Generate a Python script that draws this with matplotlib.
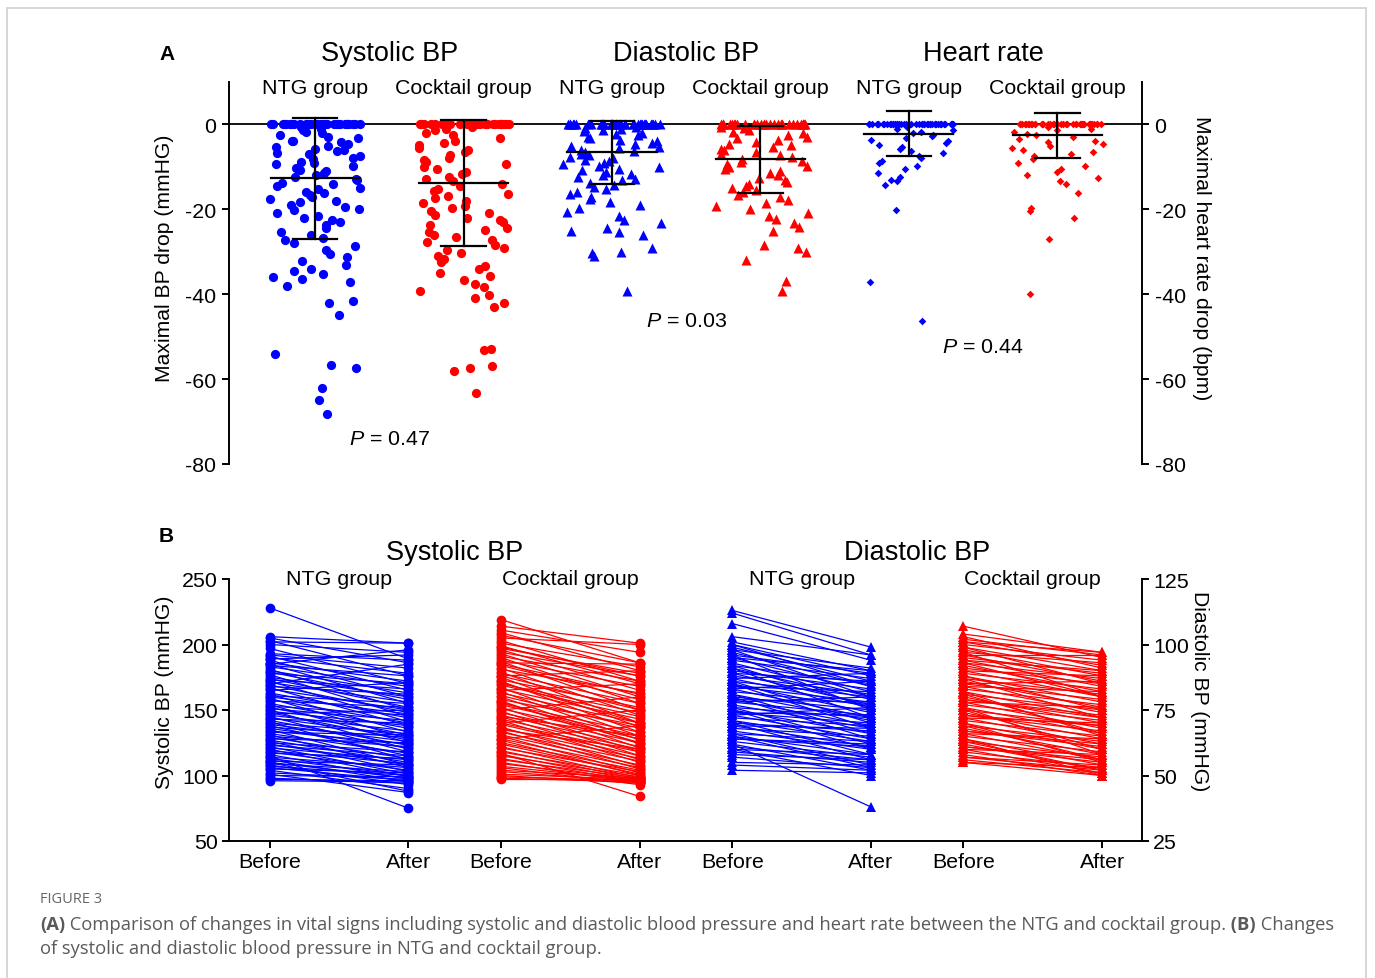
import matplotlib
matplotlib.use("Agg")
import matplotlib.pyplot as plt
from matplotlib.patches import Rectangle
import numpy as np

plt.rcParams["font.family"] = ["Liberation Sans", "DejaVu Sans"]
plt.rcParams["axes.unicode_minus"] = False
plt.rcParams["mathtext.fontset"] = "custom"
plt.rcParams["mathtext.it"] = "Liberation Sans:italic"
plt.rcParams["mathtext.rm"] = "Liberation Sans"

BLUE = "#0000FF"
RED = "#FF0000"

# ── Panel A data: maximal drop per patient ────────────────────────────────────
titles_a = ["Systolic BP", "Diastolic BP", "Heart rate"]
groups_a = ["NTG group", "Cocktail group", "NTG group", "Cocktail group", "NTG group", "Cocktail group"]
p_values = ["0.47", "0.03", "0.44"]
p_y = [-74, -46.2, -52.2]

sys_ntg = [0, 0, 0, 0, 0, 0, 0, 0, 0, 0, 0, 0, 0, 0, 0, 0, 0, 0, 0, 0, 0, 0, 0, 0, 0, 0, 0, 0, 0, 0,
           -0.5, -1, -1.2, -1.8, -2, -2.5, -3, -3.3, -3.8, -4, -4.2, -4.7, -5, -5.4, -5.9, -6,
           -6.3, -6.8, -7, -7.5, -8, -8.2, -8.8, -9, -9.4, -9.9, -10.3, -10.8, -11, -11.5, -12,
           -12.4, -12.9, -13.2, -13.7, -14, -14.5, -15, -15.3, -15.8, -16.2, -16.7, -17, -17.5,
           -18, -18.3, -18.9, -19.4, -20, -20.2, -20.8, -21.5, -22, -22.4, -23, -23.7, -24.5,
           -25.3, -26, -26.8, -27.2, -28, -28.7, -29.5, -30.5, -31.3, -32.2, -33, -34, -34.6,
           -35.3, -36, -36.5, -37.2, -38, -41.5, -42, -45, -54, -56.6, -57.3, -62, -65, -68.2]
sys_ck = [0, 0, 0, 0, 0, 0, 0, 0, 0, 0, 0, 0, 0, 0, 0, 0, 0, 0, 0, 0, 0, 0, 0, 0, 0, 0, 0, 0, 0, 0,
          -0.6, -1, -1.4, -2, -2.6, -3.2, -3.8, -4.3, -4.9, -5.5, -6, -6.6, -7.2, -7.8, -8.3,
          -8.9, -9.4, -10, -10.6, -11.2, -11.7, -12.3, -12.9, -13.4, -14, -14.6, -15.1, -15.7,
          -16.3, -16.8, -17.4, -18, -18.6, -19.1, -19.7, -20.3, -20.8, -21.4, -22, -22.6,
          -23.1, -23.7, -24.3, -24.9, -25.4, -26, -26.6, -27.2, -27.8, -28.4, -29, -29.6,
          -30.3, -31, -31.8, -32.5, -33.3, -34, -35, -35.8, -36.6, -37.5, -38.4, -39.3, -40.2,
          -41, -42, -43, -52.8, -53.2, -57, -57.3, -58, -63.3]
dia_ntg = [0, 0, 0, 0, 0, 0, 0, 0, 0, 0, 0, 0, 0, 0, 0, 0, 0, 0, 0, 0, 0, 0, 0, 0, 0, 0, 0, 0, 0, 0,
           0, 0, 0, 0, 0,
           -0.5, -0.8, -1, -1.3, -1.6, -2, -2.3, -2.6, -3, -3.3, -3.6, -4, -4.3, -4.6, -5, -5.3,
           -5.6, -6, -6.3, -6.6, -7, -7.3, -7.6, -8, -8.3, -8.6, -9, -9.3, -9.7, -10, -10.4,
           -10.8, -11.2, -11.6, -12, -12.4, -12.8, -13.2, -13.7, -14.2, -14.7, -15.2, -15.8,
           -16.4, -17, -17.6, -18.3, -19, -19.8, -20.6, -21.5, -22.4, -23.3, -24.3, -25, -25.3,
           -26, -29.2, -30, -30.3, -31, -39.3]
dia_ck = [0, 0, 0, 0, 0, 0, 0, 0, 0, 0, 0, 0, 0, 0, 0, 0, 0, 0, 0, 0, 0, 0, 0, 0, 0, 0, 0, 0, 0, 0,
          0, 0,
          -0.5, -0.9, -1.3, -1.7, -2.1, -2.5, -2.9, -3.3, -3.7, -4.1, -4.5, -4.9, -5.3, -5.7,
          -6.1, -6.5, -6.9, -7.3, -7.7, -8.1, -8.5, -8.9, -9.3, -9.7, -10.1, -10.5, -11, -11.5,
          -12, -12.5, -13, -13.5, -14, -14.5, -15, -15.5, -16, -16.6, -17.2, -17.8, -18.5,
          -19.2, -20, -20.8, -21.5, -22.3, -23.2, -24.2, -25, -28.5, -29.2, -30, -32, -37, -39.2]
hr_ntg = [0, 0, 0, 0, 0, 0, 0, 0, 0, 0, 0, 0, 0, 0, 0, 0, 0, 0, 0, 0, 0, 0, 0, 0, 0, 0, 0, 0, 0, 0,
          0, 0, 0, 0, 0, 0, 0, 0, 0, 0, 0, 0, 0, 0, 0,
          -0.5, -1, -1.3, -1.7, -2, -2.4, -2.8, -3.2, -3.6, -4, -4.4, -4.8, -5.3, -5.8, -6.3,
          -6.8, -7.4, -8, -8.6, -9.2, -9.8, -10.5, -11.5, -12.3, -13, -13.3, -14.3, -20.1,
          -37.1, -46.3]
hr_ck = [0, 0, 0, 0, 0, 0, 0, 0, 0, 0, 0, 0, 0, 0, 0, 0, 0, 0, 0, 0, 0, 0, 0, 0, 0, 0, 0, 0, 0, 0,
         0, 0, 0, 0, 0, 0, 0, 0, 0, 0,
         -0.5, -1, -1.4, -1.8, -2.2, -2.6, -3, -3.4, -3.8, -4.2, -4.6, -5, -5.5, -6, -6.5, -7,
         -7.5, -8.2, -9, -9.8, -10.5, -11.2, -12, -12.6, -13.3, -14, -16.2, -19.8, -20.4, -22,
         -27, -40]

# mean and SD
means_a = [-12.7, -13.8, -6.6, -8.2, -2.2, -2.6]
sds_a = [14.3, 14.8, 7.5, 7.9, 5.3, 5.3]

# ── Panel B data: before / after per patient ──────────────────────────────────
titles_b = ["Systolic BP", "Diastolic BP"]
groups_b = ["NTG group", "Cocktail group", "NTG group", "Cocktail group"]
tick_labels_b = ["Before", "After"] * 4

sys_ntg_before = [228, 206, 205, 203, 202, 200, 197, 193, 192, 191, 190, 189, 188, 186, 185,
                  184, 183, 181, 180, 179, 178, 177, 175, 174, 173, 172, 171, 169, 168, 167,
                  166, 165, 163, 162, 161, 160, 159, 158, 157, 155, 154, 153, 152, 151, 150,
                  149, 148, 147, 146, 145, 144, 143, 142, 141, 140, 139, 138, 137, 136, 135,
                  134, 133, 132, 131, 130, 129, 128, 127, 126, 125, 124, 123, 122, 121, 120,
                  119, 118, 117, 116, 115, 114, 113, 112, 111, 110, 109, 108, 107, 106, 105,
                  104, 102, 101, 100, 98, 97, 96, 110, 185, 170]
sys_ntg_after = [189, 201, 186, 176, 201, 194, 170, 188, 182, 165, 178, 192, 160, 172, 155,
                 176, 168, 150, 163, 158, 170, 145, 160, 152, 166, 141, 156, 148, 162, 138,
                 150, 171, 144, 133, 155, 147, 128, 140, 152, 136, 125, 146, 131, 142, 120,
                 138, 127, 150, 134, 118, 130, 140, 123, 112, 132, 126, 115, 129, 121, 108,
                 124, 131, 117, 106, 122, 113, 125, 110, 103, 118, 108, 115, 101, 112, 99,
                 109, 104, 113, 97, 75, 106, 100, 95, 108, 98, 103, 93, 100, 96, 102,
                 90, 97, 87, 99, 94, 96, 95, 88, 196, 185]
sys_ck_before = [219, 214, 211, 209, 207, 205, 203, 201, 199, 197, 196, 194, 193, 191, 190,
                 188, 187, 185, 184, 182, 181, 179, 178, 176, 175, 173, 172, 170, 169, 167,
                 166, 164, 163, 161, 160, 158, 157, 155, 154, 152, 151, 149, 148, 146, 145,
                 143, 142, 140, 139, 137, 136, 134, 133, 131, 130, 128, 127, 125, 124, 122,
                 121, 119, 118, 116, 115, 113, 112, 110, 109, 107, 106, 104, 103, 101, 100,
                 99, 98, 97, 117, 186, 176, 165, 150, 140, 128, 198, 171, 156, 145, 135]
sys_ck_after = [186, 201, 194, 180, 186, 200, 172, 183, 170, 178, 165, 176, 160, 172, 155,
                168, 150, 162, 158, 146, 163, 140, 155, 150, 137, 152, 133, 148, 145, 130,
                143, 127, 140, 136, 124, 138, 121, 133, 130, 118, 128, 115, 125, 122, 112,
                120, 110, 118, 115, 107, 113, 105, 111, 108, 102, 106, 100, 104, 101, 98,
                103, 97, 100, 96, 99, 95, 98, 94, 97, 96, 93, 98, 95, 97, 94,
                96, 95, 97, 84, 185, 180, 170, 160, 150, 138, 176, 140, 125, 130, 120]
dia_ntg_before = [113, 112, 108, 103, 101, 100, 99, 98, 97, 96, 95, 94, 93, 92, 91, 90, 89,
                  88, 87, 86, 85, 84, 83, 82, 81, 80, 79, 78, 77, 76, 75, 74, 73, 72, 71, 70,
                  69, 68, 67, 66, 65, 64, 63, 62, 61, 60, 59, 58, 57, 55, 54, 52, 98, 95, 92,
                  89, 86, 84, 81, 79, 76, 74, 71, 69, 66, 64, 62, 60, 87, 83, 78, 73, 96, 91,
                  85, 80, 75, 70, 65, 100]
dia_ntg_after = [99, 96, 94, 96, 90, 88, 86, 91, 84, 89, 82, 87, 80, 85, 79, 83, 77, 81, 76,
                 80, 74, 78, 72, 77, 71, 75, 69, 73, 68, 72, 66, 70, 64, 69, 63, 67, 61, 65,
                 60, 63, 58, 62, 57, 38, 56, 58, 55, 56, 53, 54, 52, 51, 80, 90, 76, 86, 70,
                 82, 66, 78, 62, 73, 58, 68, 54, 61, 52, 50, 89, 86, 80, 76, 75, 72, 68, 64,
                 60, 56, 53, 84]
dia_ck_before = [107, 104, 102, 101, 100, 99, 98, 97, 96, 95, 94, 93, 92, 91, 90, 89, 88, 87,
                 86, 85, 84, 83, 82, 81, 80, 79, 78, 77, 76, 75, 74, 73, 72, 71, 70, 69, 68,
                 67, 66, 65, 64, 63, 62, 61, 60, 59, 58, 57, 56, 55, 55, 57, 103, 99, 96, 93,
                 90, 87, 84, 81, 78, 75, 72, 69, 66, 63, 60, 101, 97, 94, 88, 85, 82, 79, 76,
                 73, 70, 67, 64, 61]
dia_ck_after = [95, 97, 96, 92, 94, 90, 88, 93, 86, 89, 84, 87, 82, 85, 80, 83, 78, 81, 76,
                79, 74, 77, 72, 75, 70, 73, 68, 71, 66, 69, 64, 67, 62, 65, 60, 63, 58, 61,
                56, 59, 54, 57, 52, 55, 51, 53, 50, 52, 51, 50, 53, 54, 91, 85, 96, 80, 88,
                72, 82, 66, 76, 60, 70, 56, 64, 52, 58, 97, 80, 90, 75, 86, 65, 72, 58, 69,
                55, 62, 50, 56]


def spread(n, half_width, seed):
    # deterministic scatter of dots across the column width (hash of the index)
    k = np.arange(n) + seed * 97.0
    frac = np.sin(k * 12.9898 + 78.233) * 43758.5453
    frac = frac - np.floor(frac)
    return (frac - 0.5) * 2 * half_width


fig = plt.figure(figsize=(13.75, 9.79), dpi=100)
fig.patch.set_facecolor("white")
W, H = 1375, 979

border = Rectangle((7 / W, -0.05), 1359 / W, 1.05 - 9 / H, transform=fig.transFigure,
                   facecolor="none", edgecolor="#d0d0d0", lw=1.2)
fig.patches.append(border)

# ── Panel A ───────────────────────────────────────────────────────────────────
axA = fig.add_axes([229 / W, 1 - 465 / H, 913 / W, 382 / H])
axA.set_xlim(-0.58, 5.57)
axA.set_ylim(-80, 10)
for s in ["top", "bottom"]:
    axA.spines[s].set_visible(False)
for s in ["left", "right"]:
    axA.spines[s].set_linewidth(1.4)
axA.set_xticks([])
axA.set_yticks([0, -20, -40, -60, -80])
axA.tick_params(axis="y", direction="out", length=5, width=1.4, labelsize=15.4,
                left=True, right=True, labelleft=True, labelright=True, pad=4)
axA.axhline(0, color="black", lw=1.3, zorder=1)

data_a = [sys_ntg, sys_ck, dia_ntg, dia_ck, hr_ntg, hr_ck]
markers_a = ["o", "o", "^", "^", "D", "D"]
sizes_a = [44, 44, 52, 52, 15, 15]
widths_a = [0.31, 0.31, 0.33, 0.33, 0.31, 0.31]
colors_a = [BLUE, RED] * 3
for i, vals in enumerate(data_a):
    xs = i + spread(len(vals), widths_a[i], i)
    axA.scatter(xs, vals, marker=markers_a[i], s=sizes_a[i], color=colors_a[i],
                linewidths=0, zorder=2, clip_on=False)
    m, sd = means_a[i], sds_a[i]
    axA.plot([i, i], [m - sd, m + sd], color="black", lw=1.6, zorder=3)
    axA.plot([i - 0.15, i + 0.15], [m + sd, m + sd], color="black", lw=1.6, zorder=3)
    axA.plot([i - 0.15, i + 0.15], [m - sd, m - sd], color="black", lw=1.6, zorder=3)
    axA.plot([i - 0.3, i + 0.3], [m, m], color="black", lw=1.6, zorder=3)
    axA.text(i, 8.7, groups_a[i], ha="center", va="center", fontsize=15.4, clip_on=False)

for j, t in enumerate(titles_a):
    axA.text(2 * j + 0.5, 16.9, t, ha="center", va="center", fontsize=19.5, clip_on=False)
    axA.text(2 * j + 0.5, p_y[j], r"$\mathit{P}$ = " + p_values[j], ha="center",
             va="center", fontsize=15.4)

fig.text(165 / W, 1 - 258 / H, "Maximal BP drop (mmHG)", rotation=90, ha="center",
         va="center", fontsize=15.2)
fig.text(1202 / W, 1 - 258 / H, "Maximal heart rate drop (bpm)", rotation=-90,
         ha="center", va="center", fontsize=15.2)
fig.text(167 / W, 1 - 55 / H, "A", ha="center", va="center", fontsize=15, fontweight="bold")

# ── Panel B ───────────────────────────────────────────────────────────────────
axB = fig.add_axes([229 / W, 1 - 842 / H, 913 / W, 262 / H])
axB.set_xlim(-0.44, 9.43)
axB.set_ylim(50, 250)
axR = axB.twinx()
axR.set_ylim(25, 125)
axB.spines["top"].set_visible(False)
axB.spines["right"].set_visible(False)
for s in ["top", "left", "bottom"]:
    axR.spines[s].set_visible(False)
for sp in [axB.spines["left"], axB.spines["bottom"], axR.spines["right"]]:
    sp.set_linewidth(1.4)

x_b = [0, 1.5, 2.5, 4, 5, 6.5, 7.5, 9]
axB.set_xticks(x_b)
axB.set_xticklabels(tick_labels_b)
axB.set_yticks([50, 100, 150, 200, 250])
axR.set_yticks([25, 50, 75, 100, 125])
axB.tick_params(direction="out", length=5, width=1.4, labelsize=15.4, pad=3)
axR.tick_params(direction="out", length=5, width=1.4, labelsize=15.4, pad=3)

pairs = [(sys_ntg_before, sys_ntg_after, axB, BLUE, "o", 7),
         (sys_ck_before, sys_ck_after, axB, RED, "o", 7),
         (dia_ntg_before, dia_ntg_after, axR, BLUE, "^", 7),
         (dia_ck_before, dia_ck_after, axR, RED, "^", 7)]
for g, (bef, aft, ax, c, mk, ms) in enumerate(pairs):
    x0, x1 = x_b[2 * g], x_b[2 * g + 1]
    ys = np.vstack([bef, aft])
    xs = np.vstack([np.full(len(bef), x0), np.full(len(aft), x1)])
    ax.plot(xs, ys, color=c, lw=0.9, marker=mk, ms=ms, mew=0, clip_on=False)
    axB.text((x0 + x1) / 2, 250, groups_b[g], ha="center", va="center", fontsize=15.4,
             clip_on=False)

for j, t in enumerate(titles_b):
    axB.text((x_b[4 * j] + x_b[4 * j + 3]) / 2, 270.6, t, ha="center", va="center",
             fontsize=19.5, clip_on=False)

fig.text(165 / W, 1 - 692 / H, "Systolic BP (mmHG)", rotation=90, ha="center",
         va="center", fontsize=15.2)
fig.text(1200 / W, 1 - 691 / H, "Diastolic BP (mmHG)", rotation=-90, ha="center",
         va="center", fontsize=15.2)
fig.text(166 / W, 1 - 537 / H, "B", ha="center", va="center", fontsize=15, fontweight="bold")

# ── Caption ───────────────────────────────────────────────────────────────────
cap_kw = dict(fontsize=13.25, color="#5a5a5a", family=["Open Sans", "DejaVu Sans"], va="center")
fig.text(40 / W, 1 - 900 / H, "FIGURE 3", fontsize=10.5, color="#666666",
         family=["Open Sans", "DejaVu Sans"], va="center")

renderer = fig.canvas.get_renderer()


def rich_line(x, y, parts):
    for s, wt in parts:
        t = fig.text(x, y, s, fontweight=wt, **cap_kw)
        x += t.get_window_extent(renderer=renderer).width / fig.bbox.width


rich_line(40 / W, 1 - 925 / H,
          [("(A)", "bold"),
           (" Comparison of changes in vital signs including systolic and diastolic blood "
            "pressure and heart rate between the NTG and cocktail group.", "normal"),
           (" (B)", "bold"), (" Changes", "normal")])
rich_line(40 / W, 1 - 949 / H,
          [("of systolic and diastolic blood pressure in NTG and cocktail group.", "normal")])

fig.savefig("out.png", dpi=100, facecolor="white")
